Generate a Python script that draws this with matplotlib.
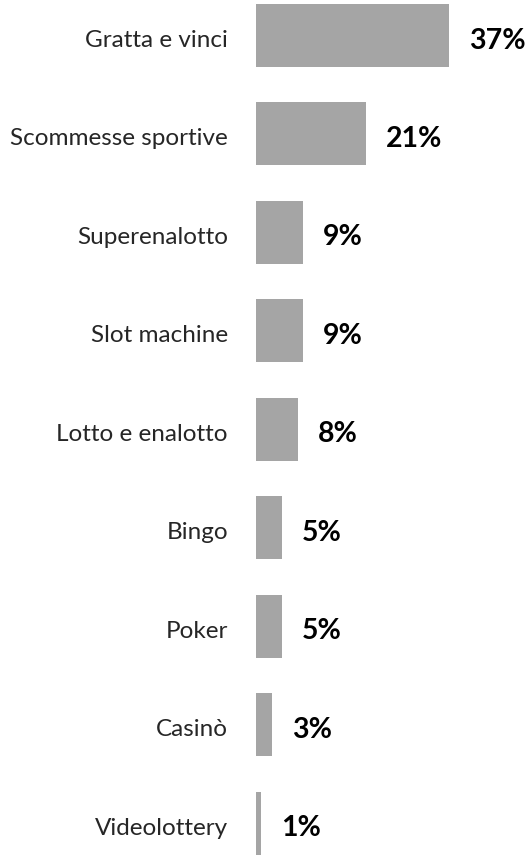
import matplotlib as mpl
mpl.use('agg')
import matplotlib.pyplot as plt

# data (top to bottom)
categories = ['Gratta e vinci', 'Scommesse sportive', 'Superenalotto', 'Slot machine',
              'Lotto e enalotto', 'Bingo', 'Poker', 'Casinò', 'Videolottery']
values = [37, 21, 9, 9, 8, 5, 5, 3, 1]
value_labels = ['37%', '21%', '9%', '9%', '8%', '5%', '5%', '3%', '1%']

plt.rcParams['font.family'] = ['Lato', 'DejaVu Sans']

fig = plt.figure(figsize=(5.27, 8.55), dpi=100)
ax = fig.add_axes([0, 0, 1, 1])

pos = list(range(len(categories)))
ax.barh(pos, values, height=0.64, color='#a5a5a5')

for p, v, cat, lab in zip(pos, values, categories, value_labels):
    # category name on the left of the bars
    ax.annotate(cat, xy=(0, p), xytext=(-28, -5), textcoords='offset pixels',
                ha='right', va='center', fontsize=17.5, color='#262626')
    # value right of each bar
    ax.annotate(lab, xy=(v, p), xytext=(20, -5), textcoords='offset pixels',
                ha='left', va='center', fontsize=20.5, fontweight='bold', color='black')

ax.set_xlim(-49.0, 51.9)
ax.set_ylim(8.325, -0.361)
ax.axis('off')

fig.savefig('out.png', dpi=100)
